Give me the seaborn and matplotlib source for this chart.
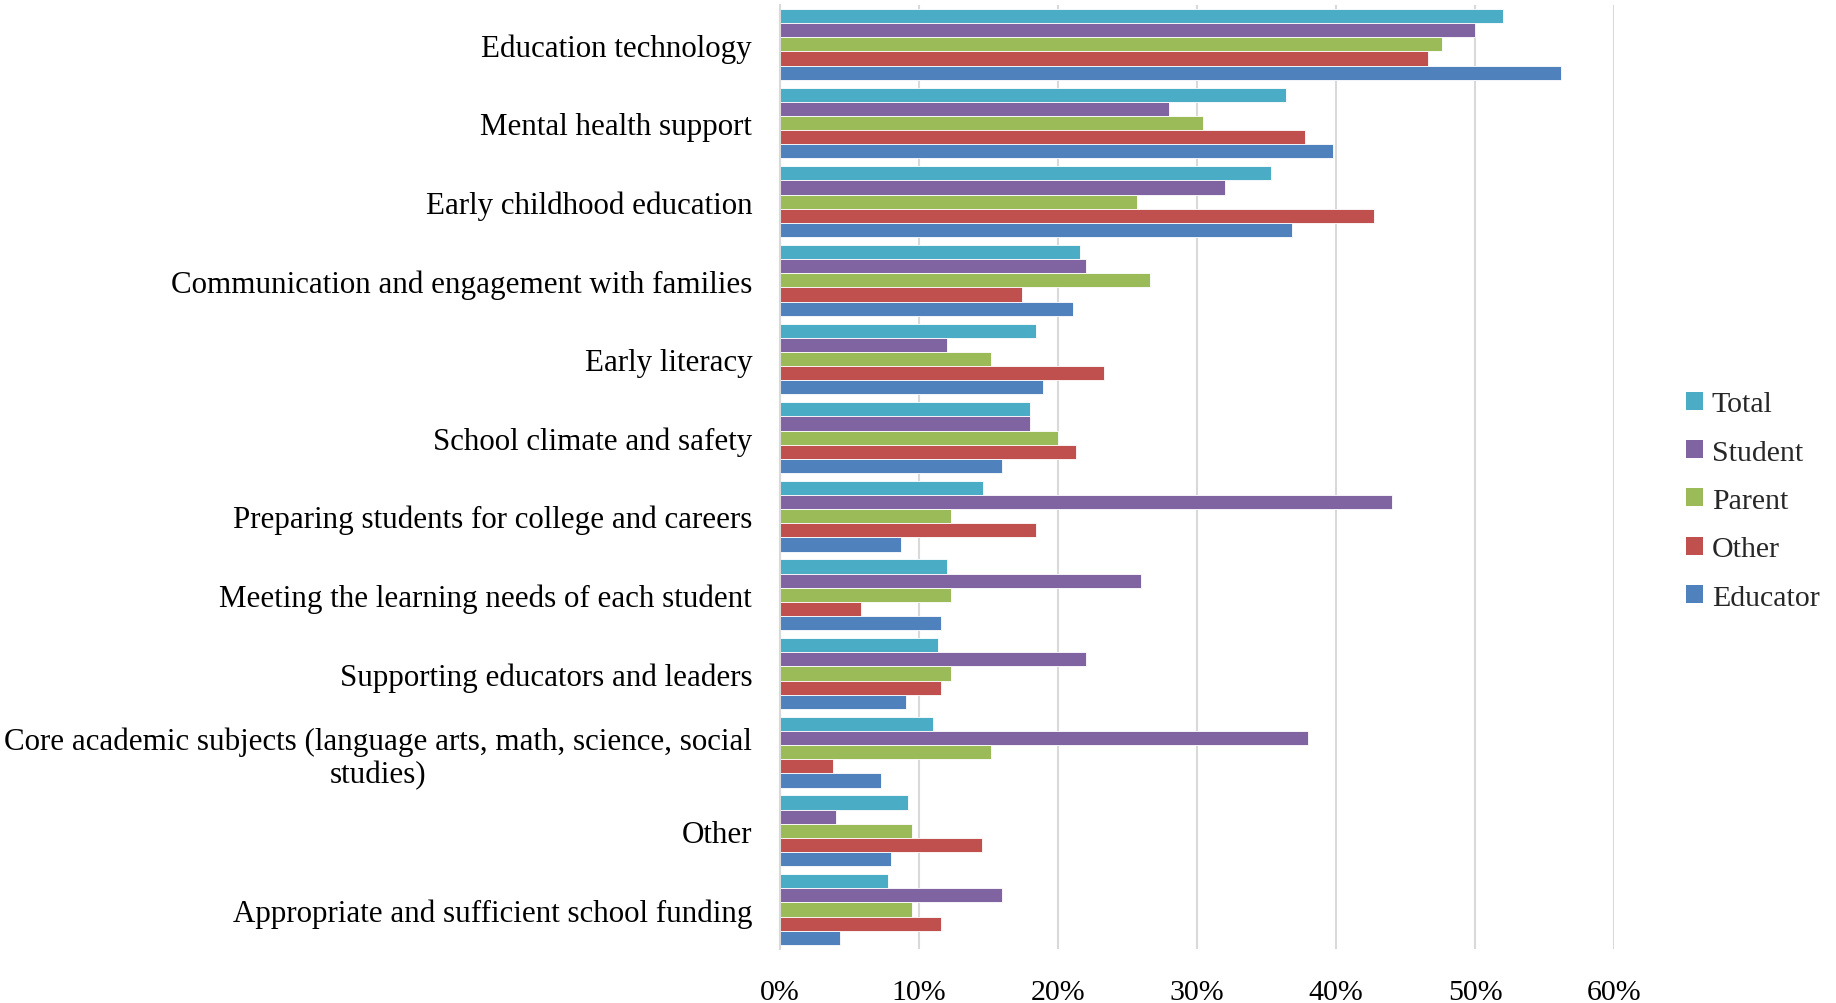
import matplotlib
matplotlib.use("Agg")
import matplotlib.pyplot as plt
from matplotlib.patches import Patch
from matplotlib.ticker import FuncFormatter, MultipleLocator
import seaborn as sns
import pandas as pd

categories = [
    "Education technology",
    "Mental health support",
    "Early childhood education",
    "Communication and engagement with families",
    "Early literacy",
    "School climate and safety",
    "Preparing students for college and careers",
    "Meeting the learning needs of each student",
    "Supporting educators and leaders",
    "Core academic subjects (language arts, math, science, social\nstudies)",
    "Other",
    "Appropriate and sufficient school funding",
]

groups = ["Total", "Student", "Parent", "Other", "Educator"]

total = [52.0, 36.4, 35.3, 21.6, 18.4, 18.0, 14.6, 12.0, 11.4, 11.0, 9.2, 7.8]
student = [50.0, 28.0, 32.0, 22.0, 12.0, 18.0, 44.0, 26.0, 22.0, 38.0, 4.0, 16.0]
parent = [47.6, 30.4, 25.7, 26.6, 15.2, 20.0, 12.3, 12.3, 12.3, 15.2, 9.5, 9.5]
other = [46.6, 37.8, 42.7, 17.4, 23.3, 21.3, 18.4, 5.8, 11.6, 3.8, 14.5, 11.6]
educator = [56.2, 39.8, 36.8, 21.1, 18.9, 16.0, 8.7, 11.6, 9.1, 7.3, 8.0, 4.3]

colors = ["#4BACC6", "#8064A2", "#9BBB59", "#C0504D", "#4F81BD"]

series = {"Total": total, "Student": student, "Parent": parent,
          "Other": other, "Educator": educator}
rows = []
for g in groups:
    for c, v in zip(categories, series[g]):
        rows.append({"category": c, "group": g, "value": v})
df = pd.DataFrame(rows)

sns.set_theme(style="white")
plt.rcParams["font.family"] = ["Liberation Serif", "DejaVu Serif"]

fig = plt.figure(figsize=(18.36, 10.04), dpi=100)
ax = fig.add_axes([0.4248, 0.054, 0.4543, 0.940])

sns.barplot(data=df, y="category", x="value", hue="group",
            order=categories, hue_order=groups, palette=colors,
            orient="h", width=0.9, saturation=1, errorbar=None,
            edgecolor="white", linewidth=0.6, ax=ax, legend=False)

ax.set_xlim(0, 60)
ax.set_ylim(len(categories) - 0.5, -0.5)
ax.xaxis.set_major_locator(MultipleLocator(10))
ax.xaxis.set_major_formatter(FuncFormatter(lambda v, p: f"{v:.0f}%"))
ax.grid(axis="x", color="#d9d9d9", linewidth=1.5)
ax.set_axisbelow(True)
for s in ["top", "right", "bottom"]:
    ax.spines[s].set_visible(False)
ax.spines["left"].set_color("#d9d9d9")
ax.spines["left"].set_linewidth(1.5)
ax.set_xlabel("")
ax.set_ylabel("")
ax.tick_params(axis="y", length=0, pad=20, labelsize=22.3, labelcolor="black")
ax.tick_params(axis="x", length=0, pad=22, labelsize=21.5, labelcolor="black")
for lbl in ax.get_yticklabels():
    lbl.set_multialignment("center")

handles = [Patch(facecolor=c, edgecolor="none", label=g) for g, c in zip(groups, colors)]
fig.legend(handles=handles, loc="center left", bbox_to_anchor=(0.912, 0.500),
           frameon=False, fontsize=21.5, handlelength=0.55, handleheight=0.55,
           handletextpad=0.3, labelspacing=0.75, borderaxespad=0)

fig.savefig("out.png", dpi=100)
